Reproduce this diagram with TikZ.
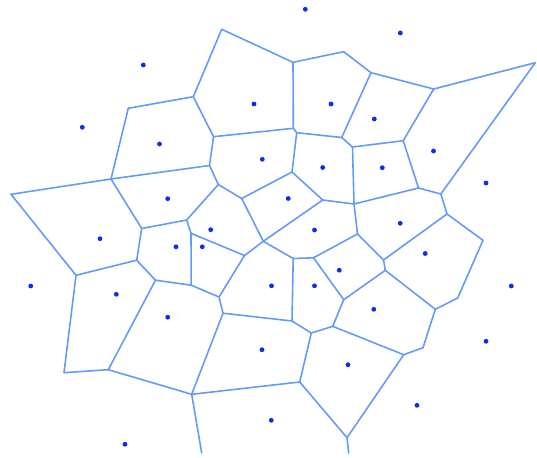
\documentclass[tikz,border=0pt]{standalone}
\definecolor{edgeblue}{RGB}{100,155,250}
\definecolor{seedblue}{RGB}{10,45,240}
\begin{document}
\begin{tikzpicture}[x=1pt,y=-1pt,
  vedge/.style={draw=edgeblue,line width=1.6pt,line cap=round,line join=round},
  seed/.style={circle,fill=seedblue,inner sep=0pt,minimum size=4.8pt}]
\useasboundingbox (0,0) rectangle (537,457);
% Voronoi vertices
\coordinate (A) at (221.7,29.3);
\coordinate (B) at (293,62.3);
\coordinate (C) at (343.7,51.7);
\coordinate (D) at (371,72.7);
\coordinate (E) at (433.7,89);
\coordinate (F) at (535.3,62.7);
\coordinate (G) at (193.3,96.7);
\coordinate (H) at (128.3,108.3);
\coordinate (I) at (213.5,136.7);
\coordinate (J) at (293.3,128.3);
\coordinate (K) at (296.7,132.7);
\coordinate (L) at (341.7,137.5);
\coordinate (M) at (352.5,147);
\coordinate (N) at (403.2,140.7);
\coordinate (O) at (111,179);
\coordinate (P) at (11,194.3);
\coordinate (Q) at (209.5,165.5);
\coordinate (R) at (218.3,184.5);
\coordinate (S) at (241.7,198.5);
\coordinate (T) at (292,172);
\coordinate (U) at (322.7,200);
\coordinate (V) at (354,204);
\coordinate (W) at (418.5,188);
\coordinate (X) at (440.8,194);
\coordinate (Y) at (447,214);
\coordinate (Z) at (141.7,228.5);
\coordinate (AA) at (186.7,220);
\coordinate (AB) at (191,233.3);
\coordinate (AC) at (263.3,241.3);
\coordinate (AD) at (244.5,255.5);
\coordinate (AE) at (136.7,260.2);
\coordinate (AF) at (76,275.3);
\coordinate (AG) at (155.5,280.2);
\coordinate (AH) at (191.2,285.2);
\coordinate (AI) at (219,297);
\coordinate (AJ) at (223,313.2);
\coordinate (AL) at (293.2,258.5);
\coordinate (AM) at (313.5,257.8);
\coordinate (AN) at (357.5,234);
\coordinate (AO) at (383.5,260);
\coordinate (AP) at (385.3,270.3);
\coordinate (AQ) at (483,240.3);
\coordinate (AR) at (457.7,298);
\coordinate (AS) at (435.3,309.3);
\coordinate (AT) at (423,347.7);
\coordinate (AU) at (403.7,354.7);
\coordinate (AV) at (343.7,299.7);
\coordinate (AW) at (332.7,326.3);
\coordinate (AX) at (311.3,333);
\coordinate (AY) at (292,321);
\coordinate (AZ) at (299.7,382);
\coordinate (BA) at (347,437.7);
\coordinate (BB) at (348.7,453);
\coordinate (BC) at (64,372.7);
\coordinate (BD) at (108.3,369.7);
\coordinate (BE) at (191.7,394.3);
\coordinate (BF) at (201.7,453);
% Voronoi edges
\foreach \a/\b in {A/B,B/C,C/D,D/E,E/F,F/X,A/G,G/H,G/I,H/O,O/P,P/AF,
  I/J,J/B,J/K,K/L,L/D,L/M,M/N,N/E,N/W,W/X,X/Y,M/V,W/V,K/T,T/S,T/U,U/V,U/AC,
  I/Q,Q/O,Q/R,R/S,R/AA,S/AC,AC/AD,AC/AL,AL/AM,AM/AN,AN/V,AN/AO,AO/Y,AO/AP,
  Y/AQ,AQ/AR,AR/AS,AS/AP,AS/AT,AT/AU,AU/AW,AW/AV,AV/AP,AV/AM,AW/AX,AX/AY,
  AY/AL,AY/AJ,AX/AZ,AZ/BE,AZ/BA,BA/AU,BA/BB,O/Z,Z/AA,AA/AB,AB/AD,AB/AH,
  AD/AI,AI/AH,AI/AJ,AH/AG,AG/AE,AE/Z,AE/AF,AF/BC,BC/BD,BD/AG,BD/BE,BE/AJ,BE/BF}
  \draw[vedge] (\a) -- (\b);
% seeds
\foreach \x/\y [count=\i] in {305.3/9.3,400.3/33,143.3/65,82.3/127.3,254/104,331/104,
  374.3/119,159.5/144,262.3/159.3,322.7/167.5,382.3/167.7,433.5/151,486/183,
  167.7/198.7,288.2/198.5,100/238.7,210.7/229.7,314.5/230,400.2/223.3,176/246.8,
  202.3/246.8,30.7/286,116.3/294.3,271.5/285.8,314.5/285.8,339.3/270.2,425.2/253.5,
  511.3/286,167.7/317.2,373.8/309.3,262/349.7,486/341.3,348/364.7,417/405.3,
  125/444.3,271.3/420.3}
  \node[seed] (s\i) at (\x,\y) {};
\end{tikzpicture}
\end{document}
